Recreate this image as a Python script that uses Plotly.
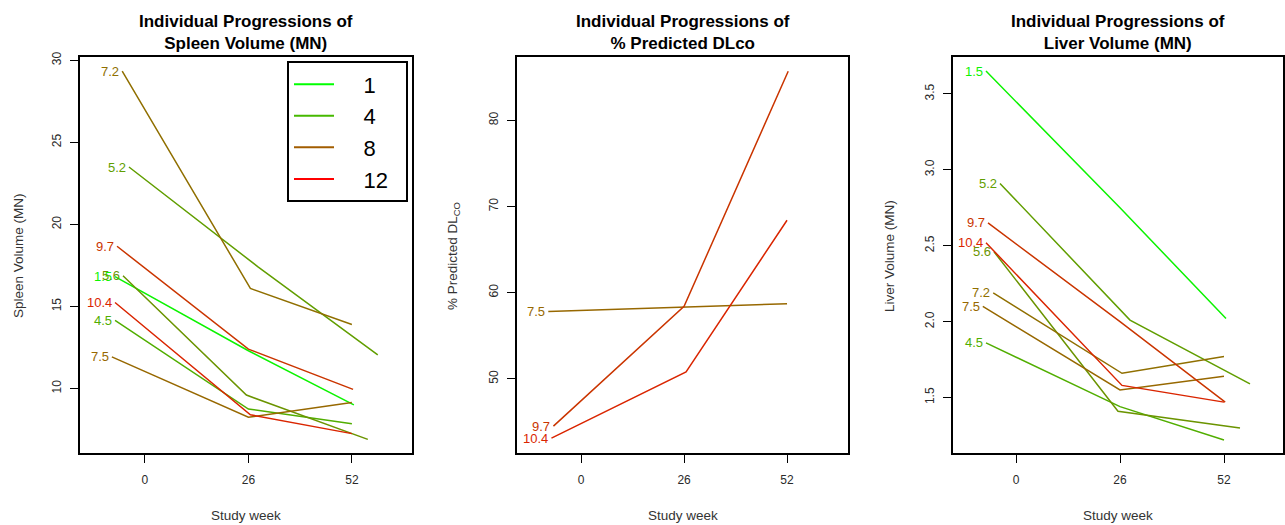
import plotly.graph_objects as go
from plotly.subplots import make_subplots

# Subjects, labelled by age at baseline (years)
subject_labels = ["1.5", "4.5", "5.2", "5.6", "7.2", "7.5", "9.7", "10.4"]
subject_ages = [1.5, 4.5, 5.2, 5.6, 7.2, 7.5, 9.7, 10.4]

# Actual study week of each visit (baseline, week 26, week 52)
visit_weeks = [
    [-7.5, 26.0, 52.5],
    [-7.5, 26.0, 52.0],
    [-4.0, 28.5, 58.5],
    [-5.5, 25.5, 56.0],
    [-5.7, 26.5, 52.0],
    [-8.3, 26.0, 52.0],
    [-7.0, 26.0, 52.3],
    [-7.5, 26.5, 52.0],
]

# Spleen volume (multiples of normal)
spleen_volume = [
    [16.82, 12.30, 9.00],
    [14.16, 8.75, 7.85],
    [23.50, 17.40, 12.05],
    [16.87, 9.60, 6.90],
    [29.34, 16.10, 13.90],
    [11.93, 8.25, 9.15],
    [18.67, 12.40, 9.95],
    [15.24, 8.40, 7.25],
]

# Liver volume (multiples of normal)
liver_volume = [
    [3.65, 2.75, 2.02],
    [1.86, 1.44, 1.22],
    [2.91, 2.01, 1.59],
    [2.46, 1.41, 1.30],
    [2.19, 1.66, 1.77],
    [2.10, 1.55, 1.64],
    [2.65, 2.00, 1.47],
    [2.52, 1.58, 1.47],
]

# % predicted DLco, only available for the older subjects
dlco_labels = ["7.5", "9.7", "10.4"]
dlco_values = [
    [57.8, 58.3, 58.7],
    [44.5, 58.4, 85.7],
    [43.1, 50.8, 68.4],
]

week_ticks = [0, 26, 52]
spleen_ticks = [10, 15, 20, 25, 30]
dlco_ticks = [50, 60, 70, 80]
liver_ticks = [1.5, 2.0, 2.5, 3.0, 3.5]
legend_ages = [1, 4, 8, 12]

FONT = "Liberation Sans, Arial, sans-serif"
W, H = 1285, 525
NBSP = "\u00a0"


def age_color(age):
    """Green-to-red ramp over ages 1..12."""
    t = (age - 1) / 11.0
    t = min(max(t, 0.0), 1.0)
    r = int(round(255 * t))
    g = int(round(255 * (1 - t)))
    return f"rgb({r},{g},0)"


def px_x(p):
    return p / W


def px_y(p):
    return 1 - p / H


fig = make_subplots(rows=1, cols=3)

panels = [
    dict(col=1, labels=subject_labels, values=spleen_volume,
         weeks=visit_weeks, ages=subject_ages),
    dict(col=2, labels=dlco_labels, values=dlco_values,
         weeks=[visit_weeks[subject_labels.index(l)] for l in dlco_labels],
         ages=[subject_ages[subject_labels.index(l)] for l in dlco_labels]),
    dict(col=3, labels=subject_labels, values=liver_volume,
         weeks=visit_weeks, ages=subject_ages),
]

annotations = []
for p in panels:
    xr = "x" if p["col"] == 1 else f"x{p['col']}"
    yr = "y" if p["col"] == 1 else f"y{p['col']}"
    for lab, vals, wk, age in zip(p["labels"], p["values"], p["weeks"], p["ages"]):
        col = age_color(age)
        fig.add_trace(
            go.Scatter(x=wk, y=vals, mode="lines",
                       line=dict(color=col, width=1.5),
                       showlegend=False, hoverinfo="skip"),
            row=1, col=p["col"])
        annotations.append(dict(
            x=wk[0], y=vals[0], xref=xr, yref=yr, text=lab,
            showarrow=False, xanchor="right", yanchor="middle", xshift=-1,
            font=dict(family=FONT, size=13, color=col)))

# Legend entries
for a in legend_ages:
    fig.add_trace(
        go.Scatter(x=[None], y=[None], mode="lines",
                   name=NBSP * 4 + str(a) + NBSP * 2,
                   line=dict(color=age_color(a), width=2)),
        row=1, col=1)

# Panel geometry (pixels)
x_domains = [(80, 412), (517, 848), (953, 1283)]
y_domain = [px_y(452), px_y(52)]
x_ranges = [[-16.3, 67.1], [-16.2, 67.4], [-15.75, 66.75]]
y_ranges = [[6.08, 30.18], [41.4, 87.3], [1.136, 3.74]]
y_tick_sets = [spleen_ticks, dlco_ticks, liver_ticks]
y_formats = ["d", "d", ".1f"]

axis_common = dict(
    showline=True, linecolor="black", linewidth=1.8, mirror=True,
    ticks="outside", ticklen=8, tickwidth=1.3, tickcolor="black",
    showgrid=False, zeroline=False,
    tickfont=dict(family=FONT, size=12, color="#2a2a2a"),
)

for i in range(3):
    n = "" if i == 0 else str(i + 1)
    fig.layout["xaxis" + n].update(
        domain=[px_x(x_domains[i][0]), px_x(x_domains[i][1])],
        range=x_ranges[i], tickvals=week_ticks, ticklabelstandoff=7,
        **axis_common)
    fig.layout["yaxis" + n].update(
        domain=y_domain, range=y_ranges[i], tickvals=y_tick_sets[i],
        tickformat=y_formats[i], tickangle=-90, ticklabelstandoff=4,
        **axis_common)

titles = ["Spleen Volume (MN)", "% Predicted DLco", "Liver Volume (MN)"]
y_titles = ["Spleen Volume (MN)", "% Predicted DL<sub>CO</sub>", "Liver Volume (MN)"]
y_title_x = [18, 453, 889]

for i in range(3):
    cx = (x_domains[i][0] + x_domains[i][1]) / 2
    annotations.append(dict(
        x=px_x(cx), y=px_y(27), xref="paper", yref="paper",
        text="<b>Individual Progressions of<br>" + titles[i] + "</b>",
        showarrow=False, xanchor="center", yanchor="middle",
        font=dict(family=FONT, size=17, color="black")))
    annotations.append(dict(
        x=px_x(cx), y=px_y(515), xref="paper", yref="paper",
        text="Study week", showarrow=False, xanchor="center", yanchor="middle",
        font=dict(family=FONT, size=13.5, color="#333333")))
    annotations.append(dict(
        x=px_x(y_title_x[i]), y=px_y(253), xref="paper", yref="paper",
        text=y_titles[i], showarrow=False, textangle=-90,
        xanchor="center", yanchor="middle",
        font=dict(family=FONT, size=13.5, color="#333333")))

fig.update_layout(
    width=W, height=H,
    margin=dict(l=0, r=0, t=0, b=0),
    paper_bgcolor="white", plot_bgcolor="white",
    annotations=annotations,
    showlegend=True,
    legend=dict(
        x=px_x(287), y=px_y(56), xanchor="left", yanchor="top",
        bordercolor="black", borderwidth=2, bgcolor="white",
        font=dict(family=FONT, size=22, color="black"),
        itemwidth=40, tracegroupgap=0,
    ),
)

fig.write_html("out.html")
